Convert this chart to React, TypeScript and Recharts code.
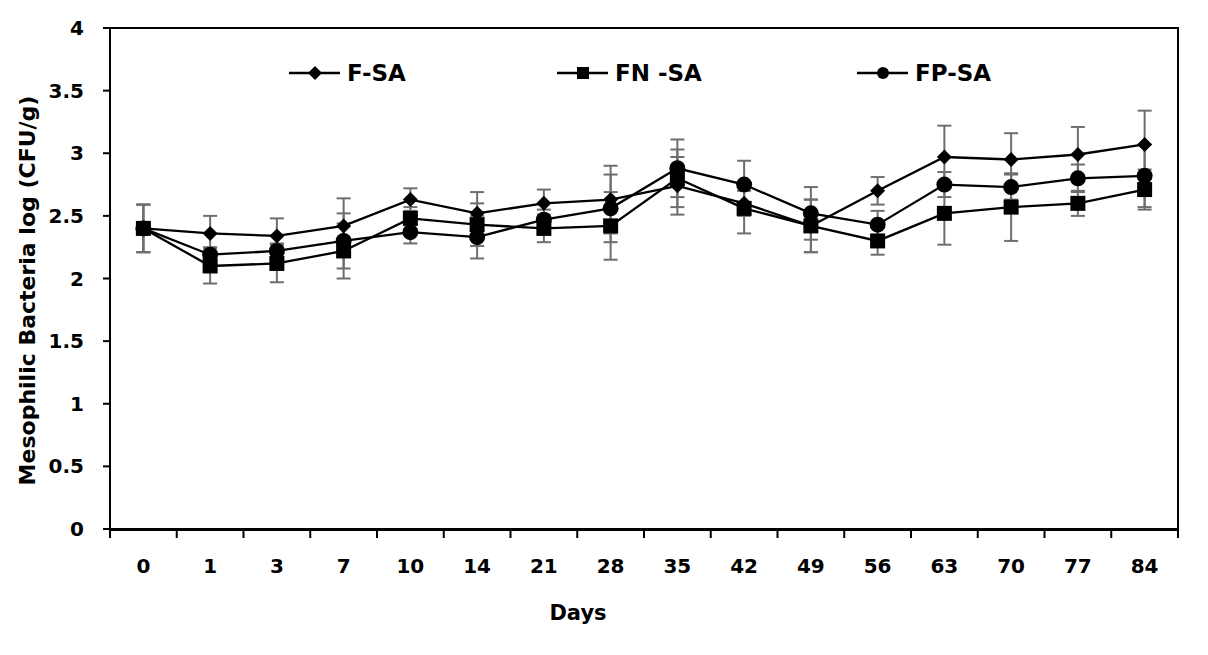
import React from "react";
import {
  LineChart,
  Line,
  XAxis,
  YAxis,
  ErrorBar,
  Legend,
  ReferenceArea,
  Label,
} from "recharts";

// storage days
const days = ["0", "1", "3", "7", "10", "14", "21", "28", "35", "42", "49", "56", "63", "70", "77", "84"];

// log CFU/g
const fsa = [2.4, 2.36, 2.34, 2.42, 2.63, 2.52, 2.6, 2.63, 2.74, 2.6, 2.42, 2.7, 2.97, 2.95, 2.99, 3.07];
const fnsa = [2.4, 2.1, 2.12, 2.22, 2.48, 2.43, 2.4, 2.42, 2.8, 2.56, 2.42, 2.3, 2.52, 2.57, 2.6, 2.71];
const fpsa = [2.4, 2.19, 2.22, 2.3, 2.37, 2.33, 2.47, 2.56, 2.88, 2.75, 2.52, 2.43, 2.75, 2.73, 2.8, 2.82];

// standard deviations
const fsaErr = [0.19, 0.14, 0.14, 0.22, 0.09, 0.17, 0.11, 0.27, 0.23, 0.1, 0.21, 0.11, 0.25, 0.21, 0.22, 0.27];
const fnsaErr = [0.19, 0.14, 0.15, 0.22, 0.09, 0.17, 0.11, 0.27, 0.23, 0.2, 0.21, 0.11, 0.25, 0.27, 0.1, 0.16];
const fpsaErr = [0.19, 0.06, 0.06, 0.22, 0.09, 0.17, 0.08, 0.27, 0.23, 0.19, 0.21, 0.11, 0.1, 0.1, 0.11, 0.25];

const yTicks = [0, 0.5, 1, 1.5, 2, 2.5, 3, 3.5, 4];

const data = days.map((d, i) => ({
  idx: i,
  day: d,
  fsa: fsa[i],
  fsaErr: fsaErr[i],
  fnsa: fnsa[i],
  fnsaErr: fnsaErr[i],
  fpsa: fpsa[i],
  fpsaErr: fpsaErr[i],
}));

const centerTicks = days.map((_, i) => i);
const edgeTicks = [...days.map((_, i) => i - 0.5), days.length - 0.5];

const FONT = "'DejaVu Sans', sans-serif";
const ERR = "#6e6e6e";
const LW = 2.3;

type Shape = "diamond" | "square" | "circle";

function Marker({ cx, cy, shape, size }: { cx: number; cy: number; shape: Shape; size: number }) {
  if (cx == null || cy == null) return null;
  if (shape === "diamond") {
    return (
      <polygon
        points={`${cx},${cy - size} ${cx + size},${cy} ${cx},${cy + size} ${cx - size},${cy}`}
        fill="#000"
      />
    );
  }
  if (shape === "square") {
    return <rect x={cx - size} y={cy - size} width={size * 2} height={size * 2} fill="#000" />;
  }
  return <circle cx={cx} cy={cy} r={size} fill="#000" />;
}

const legendItems: { name: string; shape: Shape; left: number }[] = [
  { name: "F-SA", shape: "diamond", left: 289 },
  { name: "FN -SA", shape: "square", left: 557 },
  { name: "FP-SA", shape: "circle", left: 857 },
];

function renderLegend() {
  return (
    <svg width={1208} height={30} style={{ display: "block" }}>
      {legendItems.map((it) => (
        <g key={it.name}>
          <line x1={it.left} x2={it.left + 51} y1={14} y2={14} stroke="#000" strokeWidth={LW} />
          <Marker cx={it.left + 26} cy={14} shape={it.shape} size={it.shape === "diamond" ? 7 : 6} />
          <text
            x={it.left + 58}
            y={14}
            dy="0.36em"
            fontFamily={FONT}
            fontWeight={700}
            fontSize={23}
            fill="#000"
          >
            {it.name}
          </text>
        </g>
      ))}
    </svg>
  );
}

const tickStyle = { fontSize: 20, fontWeight: 700, fill: "#000", fontFamily: FONT };

export default function App() {
  return (
    <div
      style={{
        margin: -8,
        width: 1208,
        height: 655,
        background: "#fff",
        boxShadow: "inset 2px 2px 0 #dedede",
        fontFamily: FONT,
      }}
    >
      <LineChart
        width={1208}
        height={655}
        data={data}
        margin={{ top: 28, right: 30, bottom: 124, left: 0 }}
      >
        <ReferenceArea
          x1={-0.5}
          x2={15.5}
          y1={0}
          y2={4}
          fill="none"
          stroke="#000"
          strokeWidth={2}
          ifOverflow="visible"
        />
        <XAxis
          xAxisId="edges"
          type="number"
          dataKey="idx"
          domain={[-0.5, 15.5]}
          ticks={edgeTicks}
          tickFormatter={() => ""}
          tickSize={8}
          height={1}
          axisLine={{ stroke: "#000", strokeWidth: 2 }}
          tickLine={{ stroke: "#000", strokeWidth: 2 }}
        />
        <XAxis
          type="number"
          dataKey="idx"
          domain={[-0.5, 15.5]}
          ticks={centerTicks}
          interval={0}
          tickFormatter={(v: number) => days[v]}
          tickSize={0}
          tickMargin={30}
          height={1}
          axisLine={false}
          tickLine={false}
          tick={tickStyle}
        >
          <Label
            value="Days"
            position="bottom"
            offset={75}
            dx={-66}
            style={{ fontSize: 21, fontWeight: 700, fill: "#000", fontFamily: FONT }}
          />
        </XAxis>
        <YAxis
          domain={[0, 4]}
          ticks={yTicks}
          interval={0}
          width={110}
          tickSize={7}
          tickMargin={19}
          axisLine={{ stroke: "#000", strokeWidth: 2 }}
          tickLine={{ stroke: "#000", strokeWidth: 2 }}
          tick={tickStyle}
        >
          <Label
            content={({ viewBox }: any) => {
              const cx = viewBox.x + 27;
              const cy = viewBox.y + viewBox.height / 2 + 12;
              return (
                <text
                  x={cx}
                  y={cy}
                  transform={`rotate(-90, ${cx}, ${cy})`}
                  textAnchor="middle"
                  dominantBaseline="central"
                  fontFamily={FONT}
                  fontWeight={700}
                  fontSize={22}
                  fill="#000"
                >
                  Mesophilic Bacteria log (CFU/g)
                </text>
              );
            }}
          />
        </YAxis>
        <Legend verticalAlign="middle" align="center" content={renderLegend} wrapperStyle={{ top: 59, left: 0 }} />
        <Line
          dataKey="fpsa"
          name="FP-SA"
          stroke="#000"
          strokeWidth={LW}
          isAnimationActive={false}
          dot={(p: any) => <Marker key={p.index} cx={p.cx} cy={p.cy} shape="circle" size={8} />}
        >
          <ErrorBar dataKey="fpsaErr" width={7} stroke={ERR} strokeWidth={2} direction="y" isAnimationActive={false} />
        </Line>
        <Line
          dataKey="fnsa"
          name="FN -SA"
          stroke="#000"
          strokeWidth={LW}
          isAnimationActive={false}
          dot={(p: any) => <Marker key={p.index} cx={p.cx} cy={p.cy} shape="square" size={7.5} />}
        >
          <ErrorBar dataKey="fnsaErr" width={7} stroke={ERR} strokeWidth={2} direction="y" isAnimationActive={false} />
        </Line>
        <Line
          dataKey="fsa"
          name="F-SA"
          stroke="#000"
          strokeWidth={LW}
          isAnimationActive={false}
          dot={(p: any) => <Marker key={p.index} cx={p.cx} cy={p.cy} shape="diamond" size={7.5} />}
        >
          <ErrorBar dataKey="fsaErr" width={7} stroke={ERR} strokeWidth={2} direction="y" isAnimationActive={false} />
        </Line>
      </LineChart>
    </div>
  );
}
